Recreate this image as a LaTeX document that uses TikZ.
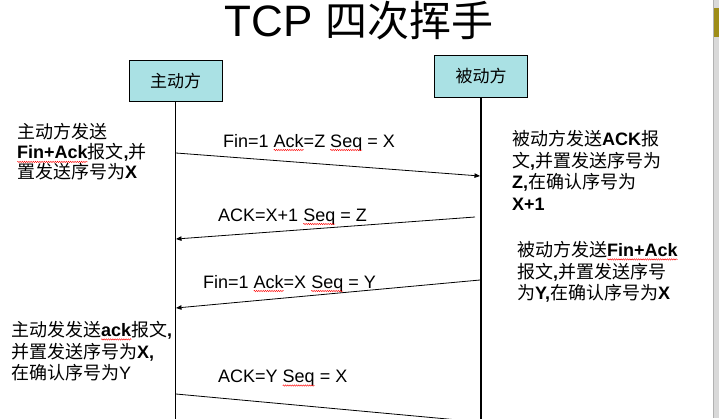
\documentclass[tikz,border=0pt]{standalone}
\usepackage{fontspec}
\setmainfont{Liberation Sans}
\newfontfamily\cjk{Noto Sans CJK SC}
\usepackage{xcolor}
\usetikzlibrary{arrows.meta, positioning, decorations.pathmorphing}

\definecolor{boxfill}{RGB}{170,225,228}
\newcommand\zh[1]{{\cjk #1}}
\newcommand\wavy[1]{\tikz[baseline=(wv.base)]{\node[inner sep=0pt, outer sep=0pt] (wv) {#1};
  \draw[overlay, red, line width=0.4pt, decorate, decoration={snake, amplitude=0.7pt, segment length=2.2pt}]
    ([yshift=-3pt]wv.base west) -- ([yshift=-3pt]wv.base east);}}

\begin{document}
\begin{tikzpicture}[
  x=1pt, y=-1pt,
  party/.style={draw, line width=0.9pt, fill=boxfill, minimum width=93pt, minimum height=41pt, inner sep=0pt, font=\fontsize{17}{17}\selectfont\cjk},
  life/.style={line width=1.1pt},
  msg/.style={-{Triangle[length=5.5pt,width=4.5pt]}, line width=0.8pt},
  flag/.style={anchor=base west, inner sep=0pt, font=\fontsize{18}{18}\selectfont},
  note/.style={anchor=north west, inner sep=0pt, align=left}
]
\useasboundingbox (0,0) rectangle (719,418);
\clip (0,0) rectangle (719,418);

% title and the two parties
\node[anchor=base, font=\fontsize{44}{44}\selectfont] (title) at (359,36)
  {TCP {\fontsize{42}{42}\selectfont\zh{四次挥手}}};
\node[party] (client) at (175.5,81) {主动方};
\node[party, minimum height=42pt] (server) at (481,76) {被动方};

% lifelines
\coordinate (clientend) at (client.south |- 0,420);
\coordinate (serverend) at (server.south |- 0,420);
\draw[life] (client.south) -- (clientend);
\draw[life] (server.south) -- (serverend);

% message ends on the lifelines
\coordinate (fin1s) at (176,153);
\coordinate (fin1e) at (480,176);
\coordinate (ack1s) at (475,217);
\coordinate (ack1e) at (176,239);
\coordinate (fin2s) at (480,280);
\coordinate (fin2e) at (176,308);
\coordinate (ack2s) at (176,394);
\coordinate (ack2e) at (480,422);

\draw[msg] (fin1s) -- (fin1e);
\draw[msg] (ack1s) -- (ack1e);
\draw[msg] (fin2s) -- (fin2e);
\draw[msg] (ack2s) -- (ack2e);

% message labels
\node[flag] (fin1lbl) at (223,147) {Fin=1 \wavy{Ack}=Z \wavy{Seq} = X};
\node[flag] (ack1lbl) at (218,221) {ACK=X+1 \wavy{Seq} = Z};
\node[flag] (fin2lbl) at (203,288) {Fin=1 \wavy{Ack}=X \wavy{Seq} = Y};
\node[flag] (ack2lbl) at (218,382.5) {ACK=Y \wavy{Seq} = X};

% side notes
\node[note, font=\fontsize{18}{20}\selectfont] (clientnote1) at (17,123.5)
  {\zh{主动方发送}\\\textbf{\wavy{Fin+Ack}}\zh{报文}\textbf{,}\zh{并}\\\zh{置发送序号为}\textbf{X}};
\node[note, font=\fontsize{18}{21.7}\selectfont] (servernote1) at (512,130)
  {\zh{被动方发送}\textbf{ACK}\zh{报}\\\zh{文}\textbf{,}\zh{并置发送序号为}\\\textbf{Z,}\zh{在确认序号为}\\\textbf{X+1}};
\node[note, font=\fontsize{18}{21.7}\selectfont] (servernote2) at (517,241)
  {\zh{被动方发送}\textbf{\wavy{Fin+Ack}}\\\zh{报文}\textbf{,}\zh{并置发送序号}\\\zh{为}\textbf{Y,}\zh{在确认序号为}\textbf{X}};
\node[note, font=\fontsize{18}{21.7}\selectfont] (clientnote2) at (11,321)
  {\zh{主动发发送}\textbf{\wavy{ack}}\zh{报文}\textbf{,}\\\zh{并置发送序号为}\textbf{X,}\\\zh{在确认序号为}Y};

% window edge of the screenshot
\fill[gray!30] (713,0) rectangle (719,418);
\draw[gray!60] (713,0) -- (713,418);
\fill[olive!70!brown] (714,8) rectangle (719,37);
\end{tikzpicture}
\end{document}
